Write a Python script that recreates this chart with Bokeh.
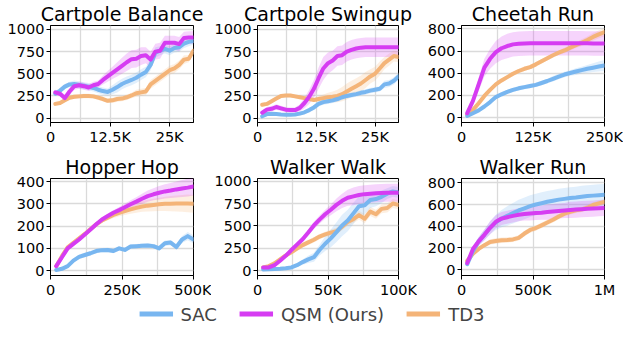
from bokeh.plotting import figure
from bokeh.layouts import column, row
from bokeh.models import FixedTicker, Range1d, Legend, LegendItem
from bokeh.embed import file_html
from bokeh.resources import INLINE

FONT = "DejaVu Sans"
C_SAC = "#78b6f0"
C_QSM = "#d63cf2"
C_TD3 = "#f4b478"

# ---------------- data ----------------
# Cartpole Balance
cb_x = [1000, 2000, 3000, 4000, 5000, 6000, 7000, 8000, 9000, 10000, 11000, 12000, 13000, 14000, 15000,
        16000, 17000, 18000, 19000, 20000, 21000, 22000, 23000, 24000, 25000, 26000, 27000, 28000, 29000, 30000]
cb_qsm = [290, 275, 225, 300, 360, 370, 360, 345, 370, 385, 430, 470, 510, 550, 590, 630, 665, 670, 700, 710,
          660, 750, 760, 850, 850, 850, 835, 905, 910, 910]
cb_sac = [275, 310, 355, 380, 385, 375, 365, 355, 340, 320, 305, 295, 320, 350, 385, 410, 430, 455, 490, 520,
          600, 740, 760, 780, 760, 790, 800, 840, 860, 870]
cb_td3 = [160, 170, 200, 230, 240, 245, 250, 250, 245, 230, 215, 195, 200, 215, 220, 235, 255, 280, 290, 300,
          380, 420, 460, 500, 540, 560, 600, 660, 670, 760]
cb_qsm_sd = [30, 30, 40, 40, 40, 40, 40, 40, 40, 40, 50, 60, 70, 80, 90, 100, 100, 100, 100, 90, 90, 90, 90, 80,
             80, 80, 80, 70, 70, 70]
cb_sac_sd = [30, 30, 30, 30, 40, 40, 40, 40, 40, 40, 40, 40, 50, 60, 60, 60, 60, 60, 60, 60, 60, 60, 50, 50, 50,
             50, 50, 50, 50, 40]
cb_td3_sd = [20, 20, 20, 20, 25, 25, 25, 25, 25, 25, 25, 25, 30, 30, 30, 30, 30, 40, 40, 40, 50, 50, 50, 50, 50,
             50, 50, 50, 40, 40]

# Cartpole Swingup
cs_x = cb_x
cs_qsm = [60, 95, 105, 125, 110, 95, 90, 90, 115, 170, 240, 330, 450, 560, 620, 650, 700, 710, 750, 770,
          785, 795, 800, 800, 800, 800, 800, 800, 800, 800]
cs_sac = [20, 45, 50, 45, 40, 38, 38, 40, 50, 65, 90, 120, 160, 180, 190, 200, 215, 235, 250, 260,
          270, 285, 295, 310, 320, 330, 380, 390, 420, 470]
cs_td3 = [150, 160, 190, 220, 250, 255, 255, 245, 235, 225, 215, 205, 215, 225, 235, 240, 250, 270, 300, 330,
          360, 390, 430, 470, 500, 560, 620, 660, 700, 690]
cs_qsm_sd = [30, 30, 30, 30, 30, 30, 30, 30, 40, 60, 80, 100, 120, 130, 120, 110, 110, 110, 110, 110, 110, 110,
             110, 110, 110, 110, 110, 110, 110, 110]
cs_sac_sd = [15, 15, 15, 15, 15, 15, 15, 15, 20, 20, 25, 30, 30, 30, 30, 30, 30, 30, 30, 30, 30, 30, 30, 30, 30,
             30, 40, 40, 40, 40]
cs_td3_sd = [20, 20, 20, 20, 20, 20, 20, 20, 20, 20, 20, 20, 30, 40, 50, 60, 70, 80, 90, 90, 90, 90, 90, 80, 80,
             80, 70, 70, 60, 60]

# Cheetah Run
cr_x = [10000, 20000, 30000, 40000, 50000, 60000, 70000, 80000, 90000, 100000, 110000, 120000, 130000, 140000,
        150000, 160000, 170000, 180000, 190000, 200000, 210000, 220000, 230000, 240000, 250000]
cr_qsm = [40, 150, 300, 450, 530, 590, 625, 645, 660, 665, 668, 670, 670, 670, 670, 670, 670, 670, 670, 670,
          670, 669, 668, 668, 668]
cr_sac = [15, 40, 65, 100, 140, 185, 210, 232, 250, 264, 275, 285, 295, 312, 330, 350, 370, 388, 402, 415,
          428, 440, 450, 460, 470]
cr_td3 = [30, 70, 130, 195, 250, 300, 335, 365, 395, 420, 440, 455, 480, 508, 535, 562, 585, 605, 630, 652,
          675, 700, 727, 750, 770]
cr_qsm_sd = [20, 40, 60, 80, 90, 100, 105, 110, 110, 110, 110, 110, 110, 110, 110, 110, 110, 110, 110, 110,
             110, 110, 110, 110, 110]
cr_sac_sd = [5, 10, 10, 15, 15, 15, 20, 20, 20, 20, 20, 20, 20, 20, 20, 25, 25, 25, 25, 30, 30, 35, 40, 45, 50]
cr_td3_sd = [10, 15, 20, 20, 20, 20, 20, 20, 20, 20, 20, 20, 20, 20, 20, 20, 20, 25, 25, 25, 30, 30, 35, 35, 40]

# Hopper Hop
hh_x = [20000, 40000, 60000, 80000, 100000, 120000, 140000, 160000, 180000, 200000, 220000, 240000, 260000,
        280000, 300000, 320000, 340000, 360000, 380000, 400000, 420000, 440000, 460000, 480000, 500000]
hh_qsm = [20, 60, 100, 120, 140, 162, 185, 208, 230, 245, 260, 272, 285, 298, 310, 323, 335, 343, 350, 356,
          360, 365, 369, 373, 378]
hh_sac = [3, 8, 20, 45, 62, 70, 78, 88, 92, 93, 88, 100, 93, 108, 110, 112, 113, 110, 100, 123, 126, 106, 140,
          155, 140]
hh_td3 = [20, 65, 105, 125, 145, 165, 187, 208, 225, 238, 250, 260, 268, 275, 282, 288, 292, 295, 298, 300,
          301, 302, 302, 302, 300]
hh_qsm_sd = [5, 10, 10, 10, 10, 10, 10, 10, 10, 10, 12, 14, 16, 18, 20, 22, 25, 27, 30, 32, 34, 36, 38, 40, 40]
hh_sac_sd = [3, 4, 5, 8, 10, 10, 10, 10, 10, 10, 10, 10, 10, 10, 10, 10, 10, 10, 10, 12, 12, 12, 15, 18, 18]
hh_td3_sd = [5, 10, 10, 10, 10, 10, 10, 10, 10, 12, 14, 16, 18, 20, 22, 24, 26, 28, 30, 32, 34, 36, 38, 40, 40]

# Walker Walk
ww_x = [4000, 8000, 12000, 16000, 20000, 24000, 28000, 32000, 36000, 40000, 44000, 48000, 52000, 56000, 60000,
        64000, 68000, 72000, 76000, 80000, 84000, 88000, 92000, 96000, 100000]
ww_qsm = [35, 35, 60, 110, 165, 230, 290, 350, 425, 505, 570, 630, 680, 735, 780, 815, 830, 845, 855, 860,
          865, 868, 870, 870, 870]
ww_sac = [12, 15, 18, 20, 25, 35, 60, 95, 125, 150, 230, 300, 360, 430, 505, 560, 640, 720, 730, 790, 800,
          825, 860, 885, 875]
ww_td3 = [35, 50, 80, 125, 170, 205, 245, 285, 315, 345, 380, 405, 425, 440, 490, 545, 575, 620, 580, 660,
          630, 690, 700, 750, 735]
ww_qsm_sd = [10, 10, 15, 20, 25, 30, 30, 30, 35, 40, 45, 50, 60, 70, 80, 90, 100, 100, 100, 100, 100, 100, 100,
             100, 100]
ww_sac_sd = [5, 5, 5, 5, 10, 10, 20, 30, 40, 50, 60, 80, 100, 110, 120, 120, 120, 110, 100, 90, 80, 70, 60, 60, 60]
ww_td3_sd = [10, 10, 15, 20, 20, 25, 25, 30, 30, 30, 30, 30, 35, 40, 40, 40, 45, 50, 50, 50, 50, 50, 50, 50, 50]

# Walker Run
wr_x = [40000, 80000, 120000, 160000, 200000, 240000, 280000, 320000, 360000, 400000, 440000, 480000, 520000,
        560000, 600000, 640000, 680000, 720000, 760000, 800000, 840000, 880000, 920000, 960000, 1000000]
wr_qsm = [60, 190, 260, 320, 385, 440, 470, 483, 495, 505, 512, 518, 522, 525, 530, 535, 540, 545, 550, 553,
          557, 560, 563, 566, 568]
wr_sac = [50, 170, 260, 320, 385, 435, 470, 495, 520, 545, 565, 585, 600, 612, 625, 635, 645, 652, 660, 665,
          672, 678, 682, 686, 690]
wr_td3 = [80, 145, 190, 225, 255, 263, 270, 273, 278, 292, 332, 365, 383, 408, 434, 460, 490, 515, 533, 547,
          555, 570, 596, 610, 625]
wr_qsm_sd = [20, 30, 40, 50, 60, 60, 60, 60, 60, 60, 60, 65, 65, 65, 70, 70, 70, 70, 75, 75, 75, 75, 75, 75, 75]
wr_sac_sd = [20, 30, 40, 50, 60, 70, 80, 90, 95, 100, 100, 100, 100, 100, 100, 100, 100, 100, 100, 100, 100,
             100, 100, 100, 100]
wr_td3_sd = [10, 15, 20, 20, 25, 25, 25, 25, 25, 25, 25, 25, 25, 25, 25, 25, 25, 25, 25, 25, 25, 25, 25, 25, 25]

# tick labels
cb_xticks = [0, 12500, 25000]
cb_xlabels = ["0", "12.5K", "25K"]
cb_xgrid = [0, 6250, 12500, 18750, 25000]
cr_xticks = [0, 125000, 250000]
cr_xlabels = ["0", "125K", "250K"]
cr_xgrid = [0, 62500, 125000, 187500, 250000]
hh_xticks = [0, 250000, 500000]
hh_xlabels = ["0", "250K", "500K"]
hh_xgrid = [0, 125000, 250000, 375000, 500000]
ww_xticks = [0, 50000, 100000]
ww_xlabels = ["0", "50K", "100K"]
ww_xgrid = [0, 25000, 50000, 75000, 100000]
wr_xticks = [0, 500000, 1000000]
wr_xlabels = ["0", "500K", "1M"]
wr_xgrid = [0, 250000, 500000, 750000, 1000000]
y1000 = [0, 250, 500, 750, 1000]
y800 = [0, 200, 400, 600, 800]
y400 = [0, 100, 200, 300, 400]


def panel(title, x, qsm, sac, td3, qsd, ssd, tsd, xr, yr, xticks, xlabels, xgrid, yticks,
          width, height, bl, br, bt, bb):
    p = figure(width=width, height=height, output_backend="svg", toolbar_location=None,
               x_range=Range1d(*xr), y_range=Range1d(*yr),
               min_border_left=bl, min_border_right=br, min_border_top=bt, min_border_bottom=bb,
               title=title)
    p.title.text_font = FONT
    p.title.text_font_size = "19px"
    p.title.text_font_style = "normal"
    p.title.align = "center"
    p.title.standoff = 1
    p.title.text_color = "black"
    for series, sd, col in ((td3, tsd, C_TD3), (sac, ssd, C_SAC), (qsm, qsd, C_QSM)):
        lo = [m - s for m, s in zip(series, sd)]
        hi = [m + s for m, s in zip(series, sd)]
        p.varea(x=x, y1=lo, y2=hi, fill_color=col, fill_alpha=0.22)
    for series, col in ((td3, C_TD3), (sac, C_SAC), (qsm, C_QSM)):
        p.line(x, series, line_color=col, line_width=4, line_join="round", line_cap="round")
    p.xaxis.ticker = FixedTicker(ticks=xticks)
    p.xaxis.major_label_overrides = {t: l for t, l in zip(xticks, xlabels)}
    p.yaxis.ticker = FixedTicker(ticks=yticks)
    p.xgrid.ticker = FixedTicker(ticks=xgrid)
    p.ygrid.ticker = FixedTicker(ticks=yticks)
    for g in (p.xgrid, p.ygrid):
        g.grid_line_color = "#dadada"
        g.grid_line_width = 1.3
    for ax in (p.xaxis, p.yaxis):
        ax.major_label_text_font = FONT
        ax.major_label_text_font_size = "14.5px"
        ax.major_label_text_color = "black"
        ax.axis_line_color = "black"
        ax.axis_line_width = 1
        ax.major_tick_line_color = "black"
        ax.major_tick_out = 4
        ax.major_tick_in = 0
        ax.minor_tick_out = 0
        ax.minor_tick_in = 0
        ax.major_label_standoff = 2
    p.outline_line_color = "black"
    p.outline_line_width = 1
    p.outline_line_alpha = 1
    p.background_fill_color = "white"
    p.border_fill_color = "white"
    return p


H1, H2 = 153, 147
p1 = panel("Cartpole Balance", cb_x, cb_qsm, cb_sac, cb_td3, cb_qsm_sd, cb_sac_sd, cb_td3_sd,
           (0, 30000), (-50, 1045), cb_xticks, cb_xlabels, cb_xgrid, y1000, 211, H1, 50, 18, 24, 31)
p2 = panel("Cartpole Swingup", cs_x, cs_qsm, cs_sac, cs_td3, cs_qsm_sd, cs_sac_sd, cs_td3_sd,
           (0, 30000), (-50, 1045), cb_xticks, cb_xlabels, cb_xgrid, y1000, 206, H1, 44, 19, 24, 31)
p3 = panel("Cheetah Run", cr_x, cr_qsm, cr_sac, cr_td3, cr_qsm_sd, cr_sac_sd, cr_td3_sd,
           (0, 250000), (-44, 830), cr_xticks, cr_xlabels, cr_xgrid, y800, 206, H1, 44, 19, 24, 31)
p4 = panel("Hopper Hop", hh_x, hh_qsm, hh_sac, hh_td3, hh_qsm_sd, hh_sac_sd, hh_td3_sd,
           (0, 500000), (-22, 414), hh_xticks, hh_xlabels, hh_xgrid, y400, 211, H2, 50, 18, 25, 23)
p5 = panel("Walker Walk", ww_x, ww_qsm, ww_sac, ww_td3, ww_qsm_sd, ww_sac_sd, ww_td3_sd,
           (0, 100000), (-55, 1030), ww_xticks, ww_xlabels, ww_xgrid, y1000, 206, H2, 44, 19, 25, 23)
p6 = panel("Walker Run", wr_x, wr_qsm, wr_sac, wr_td3, wr_qsm_sd, wr_sac_sd, wr_td3_sd,
           (0, 1000000), (-55, 840), wr_xticks, wr_xlabels, wr_xgrid, y800, 206, H2, 44, 19, 25, 23)

# legend strip
leg = figure(width=623, height=27, output_backend="svg", toolbar_location=None,
             x_axis_type=None, y_axis_type=None, x_range=Range1d(0, 1), y_range=Range1d(0, 1),
             min_border=0)
leg.outline_line_color = None
leg.xgrid.visible = False
leg.ygrid.visible = False
names = ["SAC", "QSM (Ours)", "TD3"]
cols = [C_SAC, C_QSM, C_TD3]
items = []
for n, c in zip(names, cols):
    r = leg.line(x=[-10, -9], y=[-10, -9], line_color=c, line_width=5)
    items.append(LegendItem(label=n, renderers=[r]))
legend = Legend(items=items, orientation="horizontal", location="center",
                border_line_alpha=0, background_fill_alpha=0, glyph_width=34, glyph_height=14,
                label_text_font=FONT, label_text_font_size="18px", label_standoff=8,
                spacing=22, padding=0, margin=0, label_height=14)
leg.add_layout(legend, "center")

layout = column(row(p1, p2, p3), row(p4, p5, p6), leg)

with open("out.html", "w") as f:
    f.write(file_html(layout, INLINE))
